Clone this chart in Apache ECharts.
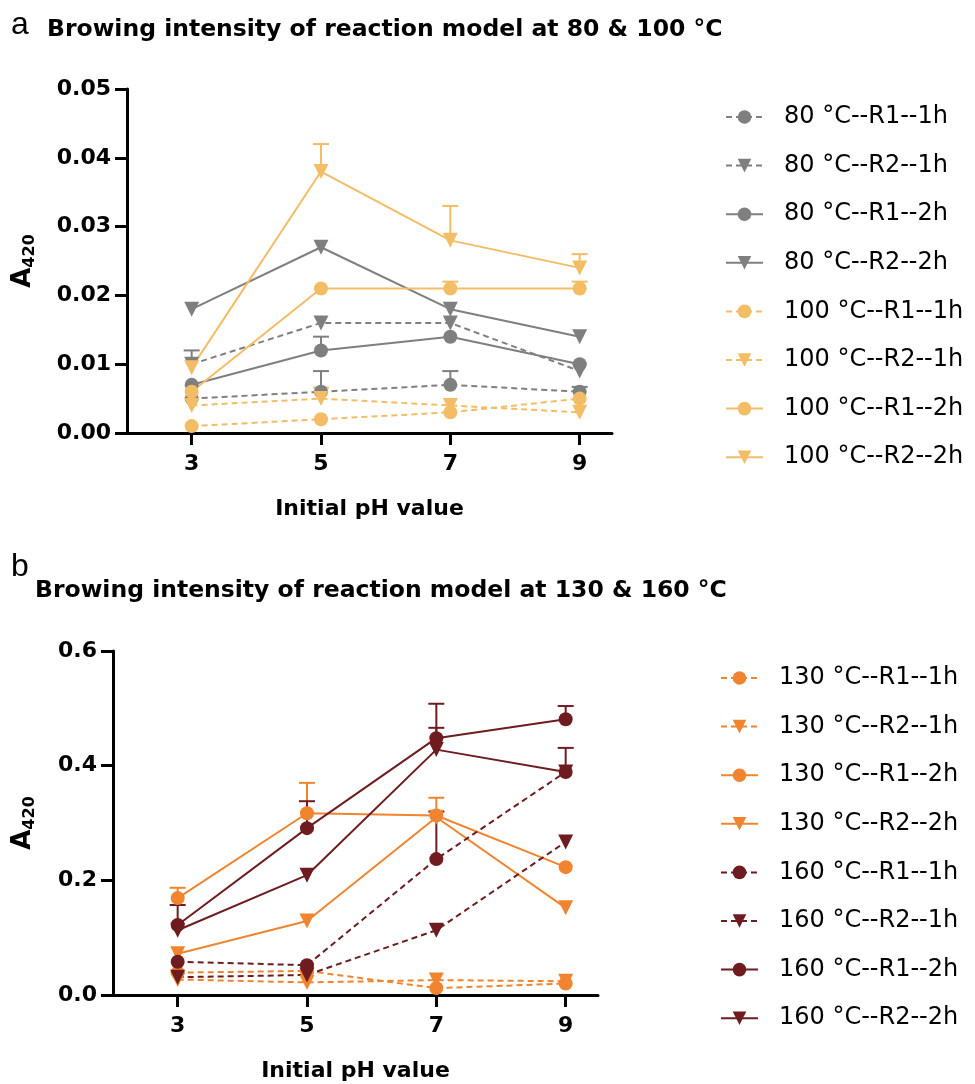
<!DOCTYPE html>
<html><head><meta charset="utf-8">
<script src="https://cdn.jsdelivr.net/npm/echarts@6/dist/echarts.min.js"></script>
<style>html,body{margin:0;padding:0;background:#fff}#c{width:975px;height:1084px}</style>
</head><body><div id="c"></div>
<script>
// ---------- data ----------
const phValues = [3, 5, 7, 9];
const xTickValues = [3, 5, 7, 9];
const yTicksA = [0, 0.01, 0.02, 0.03, 0.04, 0.05];
const yTicksB = [0, 0.2, 0.4, 0.6];

const titleA = 'Browing intensity of reaction model at 80 & 100 °C';
const titleB = 'Browing intensity of reaction model at 130 & 160 °C';
const xAxisTitle = 'Initial pH value';

// chart a series (mean values)
const namesA = ['80 °C--R1--1h', '80 °C--R2--1h', '80 °C--R1--2h', '80 °C--R2--2h',
                '100 °C--R1--1h', '100 °C--R2--1h', '100 °C--R1--2h', '100 °C--R2--2h'];
const a80R1h1  = [0.005, 0.006, 0.007, 0.006];
const a80R2h1  = [0.010, 0.016, 0.016, 0.009];
const a80R1h2  = [0.007, 0.012, 0.014, 0.010];
const a80R2h2  = [0.018, 0.027, 0.018, 0.014];
const a100R1h1 = [0.001, 0.002, 0.003, 0.005];
const a100R2h1 = [0.004, 0.005, 0.004, 0.003];
const a100R1h2 = [0.006, 0.021, 0.021, 0.021];
const a100R2h2 = [0.0095, 0.038, 0.028, 0.024];
// upper ends of error bars (null = none visible)
const eA80R1h1  = [null, 0.009, 0.009, 0.0067];
const eA80R2h1  = [0.012, null, null, null];
const eA80R1h2  = [null, 0.014, null, null];
const eA80R2h2  = [null, null, null, null];
const eA100R1h1 = [null, null, null, null];
const eA100R2h1 = [null, 0.0066, null, null];
const eA100R1h2 = [null, null, 0.022, 0.022];
const eA100R2h2 = [null, 0.042, 0.033, 0.026];

// chart b series
const namesB = ['130 °C--R1--1h', '130 °C--R2--1h', '130 °C--R1--2h', '130 °C--R2--2h',
                '160 °C--R1--1h', '160 °C--R2--1h', '160 °C--R1--2h', '160 °C--R2--2h'];
const b130R1h1 = [0.039, 0.042, 0.012, 0.020];
const b130R2h1 = [0.027, 0.022, 0.026, 0.024];
const b130R1h2 = [0.169, 0.317, 0.313, 0.223];
const b130R2h2 = [0.072, 0.129, 0.310, 0.152];
const b160R1h1 = [0.058, 0.052, 0.237, 0.389];
const b160R2h1 = [0.031, 0.035, 0.113, 0.267];
const b160R1h2 = [0.122, 0.291, 0.448, 0.481];
const b160R2h2 = [0.113, 0.209, 0.428, 0.389];
const eB130R1h1 = [null, null, null, null];
const eB130R2h1 = [null, null, null, null];
const eB130R1h2 = [0.187, 0.370, 0.344, null];
const eB130R2h2 = [null, null, null, null];
const eB160R1h1 = [null, null, 0.320, 0.431];
const eB160R2h1 = [null, null, null, null];
const eB160R1h2 = [0.157, 0.338, 0.466, 0.504];
const eB160R2h2 = [null, null, 0.508, null];

// ---------- styling ----------
const GREY = '#7f7f7f', LIGHT = '#f3bd66', ORANGE = '#f0842f', DARK = '#6e1c1f';
const FONT = 'DejaVu Sans';

const seriesDefsA = [
  [namesA[0], a80R1h1, eA80R1h1, GREY, true, 'circle'],
  [namesA[1], a80R2h1, eA80R2h1, GREY, true, 'triangle'],
  [namesA[2], a80R1h2, eA80R1h2, GREY, false, 'circle'],
  [namesA[3], a80R2h2, eA80R2h2, GREY, false, 'triangle'],
  [namesA[4], a100R1h1, eA100R1h1, LIGHT, true, 'circle'],
  [namesA[5], a100R2h1, eA100R2h1, LIGHT, true, 'triangle'],
  [namesA[6], a100R1h2, eA100R1h2, LIGHT, false, 'circle'],
  [namesA[7], a100R2h2, eA100R2h2, LIGHT, false, 'triangle']
];
const seriesDefsB = [
  [namesB[0], b130R1h1, eB130R1h1, ORANGE, true, 'circle'],
  [namesB[1], b130R2h1, eB130R2h1, ORANGE, true, 'triangle'],
  [namesB[2], b130R1h2, eB130R1h2, ORANGE, false, 'circle'],
  [namesB[3], b130R2h2, eB130R2h2, ORANGE, false, 'triangle'],
  [namesB[4], b160R1h1, eB160R1h1, DARK, true, 'circle'],
  [namesB[5], b160R2h1, eB160R2h1, DARK, true, 'triangle'],
  [namesB[6], b160R1h2, eB160R1h2, DARK, false, 'circle'],
  [namesB[7], b160R2h2, eB160R2h2, DARK, false, 'triangle']
];

function buildSeries(defs, gi) {
  const out = [];
  defs.forEach(([name, vals, errs, color, dashed, sym]) => {
    out.push({
      type: 'line', name, xAxisIndex: gi, yAxisIndex: gi,
      data: phValues.map((x, i) => [x, vals[i]]),
      symbol: sym, symbolSize: sym === 'circle' ? 14 : 15,
      symbolRotate: sym === 'triangle' ? 180 : 0,
      itemStyle: { color },
      lineStyle: { color, width: 2, type: dashed ? [6, 4] : 'solid' },
      z: 3, animation: false, silent: true
    });
    const eData = [];
    phValues.forEach((x, i) => { if (errs[i] != null) eData.push([x, vals[i], errs[i]]); });
    if (eData.length) {
      out.push({
        type: 'custom', name: name + ' err', xAxisIndex: gi, yAxisIndex: gi,
        data: eData, z: 2, animation: false, silent: true,
        renderItem: (params, api) => {
          const p0 = api.coord([api.value(0), api.value(1)]);
          const p1 = api.coord([api.value(0), api.value(2)]);
          const st = { stroke: color, lineWidth: 2 };
          return { type: 'group', children: [
            { type: 'line', shape: { x1: p0[0], y1: p0[1], x2: p1[0], y2: p1[1] }, style: st },
            { type: 'line', shape: { x1: p1[0] - 8, y1: p1[1], x2: p1[0] + 8, y2: p1[1] }, style: st }
          ]};
        }
      });
    }
  });
  return out;
}

function xAxisCfg(gi) {
  return {
    type: 'value', gridIndex: gi, min: 2, max: 9.5,
    splitLine: { show: false },
    axisLine: { show: true, onZero: false, lineStyle: { color: '#000', width: 3 } },
    axisTick: { show: true, customValues: xTickValues, length: 12, lineStyle: { color: '#000', width: 3 } },
    axisLabel: { customValues: xTickValues, margin: 20, color: '#000', fontSize: 22, fontWeight: 'bold', fontFamily: FONT },
    name: xAxisTitle, nameLocation: 'middle', nameGap: 65,
    nameTextStyle: { color: '#000', fontSize: 22, fontWeight: 'bold', fontFamily: FONT }
  };
}
function yAxisCfg(gi, max, interval, dec) {
  return {
    type: 'value', gridIndex: gi, min: 0, max, interval,
    splitLine: { show: false },
    axisLine: { show: true, lineStyle: { color: '#000', width: 3 } },
    axisTick: { show: true, length: 12, lineStyle: { color: '#000', width: 3 } },
    axisLabel: { margin: 16, color: '#000', fontSize: 22, fontWeight: 'bold', fontFamily: FONT,
                 formatter: v => v.toFixed(dec) },
    name: '{a|A}{s|420}', nameLocation: 'middle', nameGap: dec === 2 ? 89 : 75,
    nameTextStyle: {
      rich: {
        a: { fontSize: 26, fontWeight: 'bold', fontFamily: FONT, color: '#000' },
        s: { fontSize: 16, fontWeight: 'bold', fontFamily: FONT, color: '#000', verticalAlign: 'bottom', padding: [14, 0, 0, 0] }
      }
    }
  };
}
function legendCfg(names, left, top) {
  return {
    data: names, orient: 'vertical', left, top, padding: 0,
    itemWidth: 37, itemHeight: 17, itemGap: 24.6,
    selectedMode: false,
    textStyle: { fontSize: 24, fontFamily: FONT, color: '#000', lineHeight: 24, padding: [0, 0, 0, 16] }
  };
}

const option = {
  backgroundColor: '#fff',
  animation: false,
  title: [
    { text: 'a', left: 6, top: 4, textStyle: { fontSize: 32, fontWeight: 'normal', fontFamily: 'Liberation Sans', color: '#000' } },
    { text: titleA, left: 42, top: 13, textStyle: { fontSize: 23.5, fontWeight: 'bold', fontFamily: FONT, color: '#000' } },
    { text: 'b', left: 6, top: 546, textStyle: { fontSize: 32, fontWeight: 'normal', fontFamily: 'Liberation Sans', color: '#000' } },
    { text: titleB, left: 30, top: 574, textStyle: { fontSize: 23.5, fontWeight: 'bold', fontFamily: FONT, color: '#000' } }
  ],
  grid: [
    { left: 127, top: 89, width: 485, height: 344 },
    { left: 113, top: 651, width: 485, height: 344 }
  ],
  xAxis: [xAxisCfg(0), xAxisCfg(1)],
  yAxis: [yAxisCfg(0, 0.05, 0.01, 2), yAxisCfg(1, 0.6, 0.2, 1)],
  legend: [legendCfg(namesA, 725, 105), legendCfg(namesB, 720, 666)],
  series: [...buildSeries(seriesDefsA, 0), ...buildSeries(seriesDefsB, 1)]
};
const chart = echarts.init(document.getElementById('c'), null, { renderer: 'canvas' });
chart.setOption(option);
</script></body></html>
